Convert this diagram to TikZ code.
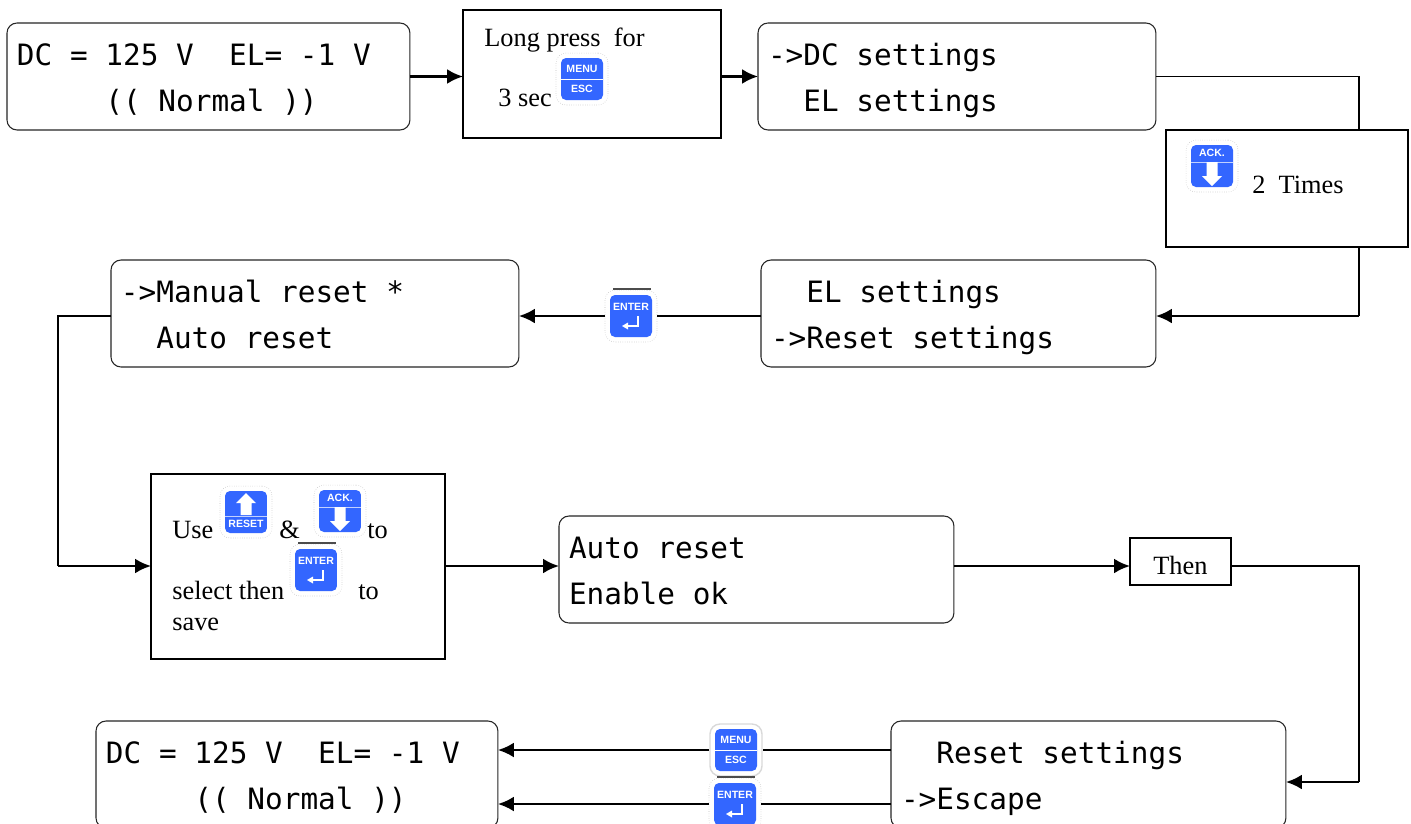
\documentclass[tikz,border=0pt]{standalone}
\usepackage{fontspec}
\setmainfont{Liberation Serif}
\newfontfamily\lcdfont{DejaVu Sans Mono}
\newfontfamily\keyfont{Liberation Sans}
\usetikzlibrary{arrows.meta}

\definecolor{keyblue}{RGB}{51,102,255}

\tikzset{
  lcd/.style={draw=black!85,line width=.6pt,rounded corners=.2cm,anchor=north west,align=flush left,
    inner xsep=.2cm,inner ysep=0pt,outer sep=0pt,minimum height=2.14cm,
    font=\lcdfont\fontsize{16.72}{26.6}\selectfont,
    execute at begin node={\rule{0pt}{17.4pt}},
    execute at end node={\rule[-3.8pt]{0pt}{3.8pt}}},
  note/.style={draw=black,line width=1.1pt,anchor=north west,inner sep=0pt,outer sep=0pt},
  notetext/.style={anchor=base west,inner sep=0pt,font=\fontsize{15}{18}\selectfont},
  flow/.style={line width=1.4pt,-{Latex[length=.32cm,width=.3cm]}},
  lead/.style={line width=.9pt},
  keyhalo/.style={draw=black!25,densely dotted,line width=.3pt,fill=white,rounded corners=.2cm,
    minimum size=1.04cm,inner sep=0pt},
  keyface/.style={fill=keyblue,rounded corners=.1cm,minimum size=.84cm,inner sep=0pt},
  keytext/.style={text=white,inner sep=0pt,font=\keyfont\bfseries\fontsize{6}{7}\selectfont},
}

% halo and blue face of a key
\newcommand{\keyframe}[2]{
  \node[keyhalo,#2] (#1) at (0,0) {};
  \node[keyface] (#1face) at (0,0) {};
}
\newcommand{\menukey}[3][]{
  \begin{scope}[shift={(#3)}]
    \keyframe{#2}{#1}
    \node[keytext] (#2menu) at (0,-10) {MENU};
    \node[keytext] (#2esc) at (0,10) {ESC};
    \draw[white,line width=.4pt] (-21,0) -- (21,0);
  \end{scope}
}
\newcommand{\enterkey}[2]{
  \begin{scope}[shift={(#2)}]
    \keyframe{#1}{}
    \draw[black!70,line width=.6pt] (-18,-27) -- (20,-27);
    \node[keytext] (#1enter) at (0,-9) {ENTER};
    \draw[white,line width=.7pt] (7,0) -- (7,10) -- (-3,10);
    \fill[white] (-9,10) -- (-3,6.5) -- (-3,13.5) -- cycle;
  \end{scope}
}
\newcommand{\ackkey}[2]{
  \begin{scope}[shift={(#2)}]
    \keyframe{#1}{}
    \node[keytext] (#1ack) at (0,-13) {ACK.};
    \draw[white!70!keyblue,line width=.4pt] (-21,-4) -- (21,-4);
    \fill[white] (-5.5,-4) -- (5.5,-4) -- (5.5,10) -- (10,10) -- (0,20) -- (-10,10) -- (-5.5,10) -- cycle;
  \end{scope}
}
\newcommand{\resetkey}[2]{
  \begin{scope}[shift={(#2)}]
    \keyframe{#1}{}
    \node[keytext] (#1reset) at (0,12) {RESET};
    \draw[white!70!keyblue,line width=.4pt] (-21,4) -- (21,4);
    \fill[white] (-5.5,3) -- (5.5,3) -- (5.5,-9) -- (10,-9) -- (0,-19) -- (-10,-9) -- (-5.5,-9) -- cycle;
  \end{scope}
}

\begin{document}
\begin{tikzpicture}[x=.02cm,y=-.02cm]
  \clip (0,0) rectangle (1411,823);
  \fill[white] (0,0) rectangle (1411,823);

  % Display boxes
  \node[lcd,text width=7.66cm] (lcdtop) at (7,23) {DC = 125 V~~EL= -1 V\\~~~~~(( Normal ))};
  \node[lcd,text width=7.56cm] (dcmenu) at (758,23) {->DC settings\\~~EL settings};
  \node[lcd,text width=7.50cm] (elmenu) at (761,260) {~~EL settings\\->Reset settings};
  \node[lcd,text width=7.76cm] (manualmenu) at (111,260) {->Manual reset *\\~~Auto reset};
  \node[lcd,text width=7.50cm] (autook) at (559,516) {Auto reset\\Enable ok};
  \node[lcd,text width=7.50cm] (escmenu) at (891,721) {~~Reset settings\\->Escape};
  \node[lcd,text width=7.64cm] (lcdend) at (96,721) {DC = 125 V~~EL= -1 V\\~~~~~(( Normal ))};

  % Instruction boxes
  \node[note,minimum width=5.16cm,minimum height=2.56cm] (pressbox) at (463,10) {};
  \node[note,minimum width=4.84cm,minimum height=2.34cm] (timesbox) at (1166,130) {};
  \node[note,minimum width=5.88cm,minimum height=3.70cm] (usebox) at (151,474) {};
  \node[note,minimum width=2.02cm,minimum height=.94cm] (thenbox) at (1130,538) {};

  % Corners of the long connectors
  \coordinate (railright) at (1359,316);
  \coordinate (railleft) at (58,566);
  \coordinate (railend) at (1359,782);

  % Connectors
  \draw[flow] (lcdtop.east) -- (lcdtop.east -| pressbox.west);
  \draw[flow] (lcdtop.east -| pressbox.east) -- (lcdtop.east -| dcmenu.west);
  \draw[lead] (dcmenu.east) -| (railright |- timesbox.north);
  \draw[lead] (railright |- timesbox.south) -- (railright);
  \draw[flow] (railright) -- (railright -| elmenu.east);
  \draw[lead] (manualmenu.west |- railright) -| (railleft);
  \draw[flow] (railleft) -- (railleft -| usebox.west);
  \draw[flow] (railleft -| usebox.east) -- (railleft -| autook.west);
  \draw[flow] (railleft -| autook.east) -- (railleft -| thenbox.west);
  \draw[lead] (railleft -| thenbox.east) -| (railend);
  \draw[flow] (railend) -- (railend -| escmenu.east);

  % Keys sitting on the connectors
  \enterkey{enterone}{631,316}
  \draw[lead] (elmenu.west |- enterone) -- (enterone);
  \draw[flow] (enterone) -- (enterone -| manualmenu.east);
  \menukey[draw=black!15,solid,line width=.8pt]{menuend}{736,750}
  \draw[lead] (escmenu.west |- menuend) -- (menuend);
  \draw[flow] (menuend) -- (menuend -| lcdend.east);
  \enterkey{enterend}{735,804}
  \draw[lead] (escmenu.west |- enterend) -- (enterend);
  \draw[flow] (enterend) -- (enterend -| lcdend.east);

  % Text and keys inside the instruction boxes
  \node[notetext] (longtext) at (484,46) {Long press~~for};
  \node[notetext] (sectext) at (498,106) {3 sec};
  \menukey{menuone}{582,79}
  \ackkey{ackone}{1212,166}
  \node[notetext] (timestext) at (1252,193) {2~~Times};
  \node[notetext] (usetext) at (172,538) {Use};
  \resetkey{resetkey}{246,512}
  \node[notetext] (andtext) at (279,538) {\&};
  \ackkey{acktwo}{340,511}
  \node[notetext] (totext) at (367,538) {to};
  \node[notetext] (selecttext) at (172,599) {select then};
  \enterkey{entertwo}{316,570}
  \node[notetext] (tosave) at (358,599) {to};
  \node[notetext] (savetext) at (172,630) {save};
  \node[notetext] (thentext) at (1153,574) {Then};
\end{tikzpicture}
\end{document}
